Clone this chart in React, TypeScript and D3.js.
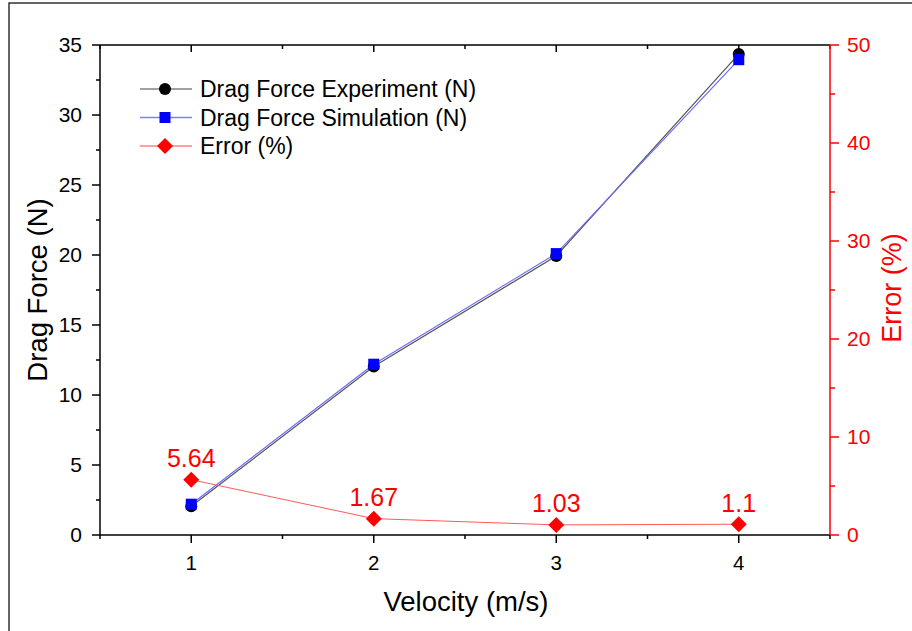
import * as d3 from 'd3';

const WIDTH = 912;
const HEIGHT = 631;
const MARGIN = { top: 45, right: 82, bottom: 96, left: 100 };

// data
const velocity = [1, 2, 3, 4];
const dragExperiment = [2.05, 12.03, 19.93, 34.35];
const dragSimulation = [2.2, 12.2, 20.1, 33.95];
const errorPct = [5.64, 1.67, 1.03, 1.1];
const errorLabels = ['5.64', '1.67', '1.03', '1.1'];

const xTicks = [1, 2, 3, 4];
const xMinorTicks = [0.5, 1.5, 2.5, 3.5, 4.5];
const leftTicks = [0, 5, 10, 15, 20, 25, 30, 35];
const leftMinorTicks = [2.5, 7.5, 12.5, 17.5, 22.5, 27.5, 32.5];
const rightTicks = [0, 10, 20, 30, 40, 50];
const rightMinorTicks = [5, 15, 25, 35, 45];

const legendItems = [
    { label: 'Drag Force Experiment (N)', color: '#000000', line: '#808080', shape: 'circle' },
    { label: 'Drag Force Simulation (N)', color: '#0000ff', line: '#8080ff', shape: 'square' },
    { label: 'Error (%)', color: '#ff0000', line: '#ff8080', shape: 'diamond' },
];

const FONT = 'Liberation Sans, Arial, sans-serif';
const RED = '#ff0000';

const Marker = ({ shape, x, y, color }: { shape: string; x: number; y: number; color: string }) => {
    if (shape === 'circle') return <circle cx={x} cy={y} r={6} fill={color} />;
    if (shape === 'square') return <rect x={x - 5.5} y={y - 5.5} width={11} height={11} fill={color} />;
    const s = 8;
    return <path d={`M${x},${y - s}L${x + s},${y}L${x},${y + s}L${x - s},${y}Z`} fill={color} />;
};

export default function App() {
    const boundsWidth = WIDTH - MARGIN.left - MARGIN.right;
    const boundsHeight = HEIGHT - MARGIN.top - MARGIN.bottom;

    const xScale = d3.scaleLinear().domain([0.5, 4.5]).range([0, boundsWidth]);
    const yLeft = d3.scaleLinear().domain([0, 35]).range([boundsHeight, 0]);
    const yRight = d3.scaleLinear().domain([0, 50]).range([boundsHeight, 0]);

    const lineLeft = d3
        .line<number>()
        .x((_, i) => xScale(velocity[i]))
        .y((d) => yLeft(d));
    const lineRight = d3
        .line<number>()
        .x((_, i) => xScale(velocity[i]))
        .y((d) => yRight(d));

    return (
        <svg
            width={WIDTH}
            height={HEIGHT}
            style={{ position: 'absolute', left: 0, top: 0, background: '#fff' }}
            fontFamily={FONT}
        >
            {/* figure frame */}
            <rect x={9} y={3} width={WIDTH + 20} height={HEIGHT + 20} fill="none" stroke="#333" strokeWidth={1.5} />

            <g transform={`translate(${MARGIN.left},${MARGIN.top})`}>
                {/* top axis */}
                <line x1={0} x2={boundsWidth} y1={0} y2={0} stroke="#000" strokeWidth={1.5} />
                {xTicks.map((t) => (
                    <line key={'tt' + t} x1={xScale(t)} x2={xScale(t)} y1={0} y2={7} stroke="#000" strokeWidth={1.5} />
                ))}
                {xMinorTicks.map((t) => (
                    <line key={'tm' + t} x1={xScale(t)} x2={xScale(t)} y1={0} y2={4} stroke="#000" strokeWidth={1.5} />
                ))}

                {/* bottom axis */}
                <line x1={0} x2={boundsWidth} y1={boundsHeight} y2={boundsHeight} stroke="#000" strokeWidth={1.5} />
                {xTicks.map((t) => (
                    <g key={'bt' + t}>
                        <line x1={xScale(t)} x2={xScale(t)} y1={boundsHeight} y2={boundsHeight + 8} stroke="#000" strokeWidth={1.5} />
                        <text x={xScale(t)} y={boundsHeight + 35} textAnchor="middle" fontSize={20.5} fill="#000">
                            {t}
                        </text>
                    </g>
                ))}
                {xMinorTicks.map((t) => (
                    <line key={'bm' + t} x1={xScale(t)} x2={xScale(t)} y1={boundsHeight} y2={boundsHeight + 4} stroke="#000" strokeWidth={1.5} />
                ))}

                {/* left axis */}
                <line x1={0} x2={0} y1={0} y2={boundsHeight} stroke="#000" strokeWidth={1.5} />
                {leftTicks.map((t) => (
                    <g key={'lt' + t}>
                        <line x1={-8} x2={0} y1={yLeft(t)} y2={yLeft(t)} stroke="#000" strokeWidth={1.5} />
                        <text x={-18} y={yLeft(t)} dy="0.35em" textAnchor="end" fontSize={21} fill="#000">
                            {t}
                        </text>
                    </g>
                ))}
                {leftMinorTicks.map((t) => (
                    <line key={'lm' + t} x1={-4} x2={0} y1={yLeft(t)} y2={yLeft(t)} stroke="#000" strokeWidth={1.5} />
                ))}

                {/* right axis, red */}
                <line x1={boundsWidth} x2={boundsWidth} y1={0} y2={boundsHeight} stroke={RED} strokeWidth={1.5} />
                {rightTicks.map((t) => (
                    <g key={'rt' + t}>
                        <line x1={boundsWidth} x2={boundsWidth + 9} y1={yRight(t)} y2={yRight(t)} stroke={RED} strokeWidth={1.5} />
                        <text x={boundsWidth + 17} y={yRight(t)} dy="0.35em" textAnchor="start" fontSize={21} fill={RED}>
                            {t}
                        </text>
                    </g>
                ))}
                {rightMinorTicks.map((t) => (
                    <line key={'rm' + t} x1={boundsWidth} x2={boundsWidth + 5} y1={yRight(t)} y2={yRight(t)} stroke={RED} strokeWidth={1.5} />
                ))}

                {/* axis titles */}
                <text
                    transform={`translate(${-53},${boundsHeight / 2}) rotate(-90)`}
                    textAnchor="middle"
                    fontSize={27.5}
                    fill="#000"
                >
                    Drag Force (N)
                </text>
                <text
                    transform={`translate(${boundsWidth + 71},${boundsHeight / 2 - 2}) rotate(-90)`}
                    textAnchor="middle"
                    fontSize={27}
                    fill={RED}
                >
                    Error (%)
                </text>
                <text x={boundsWidth / 2 + 1} y={boundsHeight + 76} textAnchor="middle" fontSize={27.5} fill="#000">
                    Velocity (m/s)
                </text>

                {/* series lines */}
                <path d={lineLeft(dragExperiment) ?? ''} fill="none" stroke="#555" strokeWidth={1.2} />
                <path d={lineLeft(dragSimulation) ?? ''} fill="none" stroke="#6b6bff" strokeWidth={1.2} />
                <path d={lineRight(errorPct) ?? ''} fill="none" stroke="#ff5a5a" strokeWidth={1} />

                {/* markers */}
                {dragExperiment.map((d, i) => (
                    <Marker key={'e' + i} shape="circle" x={xScale(velocity[i])} y={yLeft(d)} color="#000" />
                ))}
                {dragSimulation.map((d, i) => (
                    <Marker key={'s' + i} shape="square" x={xScale(velocity[i])} y={yLeft(d)} color="#0000ff" />
                ))}
                {errorPct.map((d, i) => (
                    <g key={'r' + i}>
                        <Marker shape="diamond" x={xScale(velocity[i])} y={yRight(d)} color={RED} />
                        <text x={xScale(velocity[i])} y={yRight(d) - 12.5} textAnchor="middle" fontSize={25} fill={RED}>
                            {errorLabels[i]}
                        </text>
                    </g>
                ))}
            </g>

            {/* legend */}
            {legendItems.map((item, i) => {
                const y = 89 + i * 28.5;
                return (
                    <g key={item.label}>
                        <line x1={140} x2={192} y1={y} y2={y} stroke={item.line} strokeWidth={1.5} />
                        <Marker shape={item.shape} x={165} y={y} color={item.color} />
                        <text x={200} y={y} dy="0.35em" fontSize={23} fill="#000">
                            {item.label}
                        </text>
                    </g>
                );
            })}
        </svg>
    );
}
